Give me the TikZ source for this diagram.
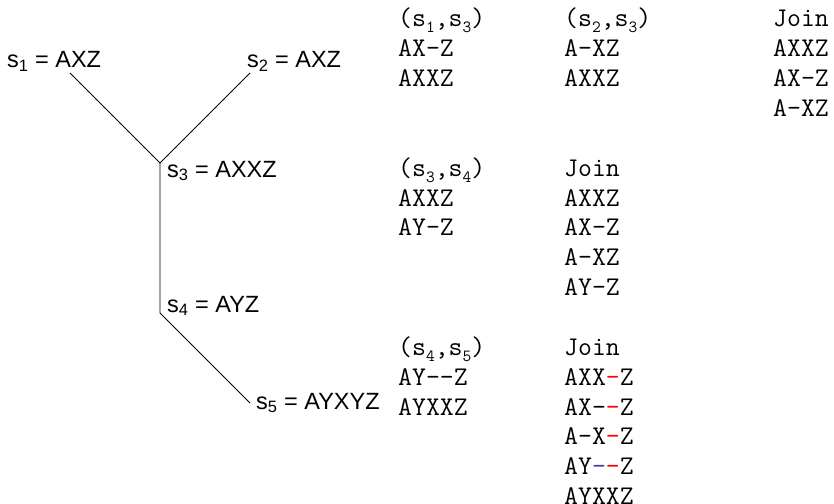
\documentclass[tikz,border=0pt]{standalone}
\usepackage{fontspec}
\setmainfont{Liberation Sans}
\definecolor{dashblue}{rgb}{0.25,0.25,0.6}
\newcommand\msub[1]{\raisebox{-0.22em}{\fontsize{17}{17}\selectfont #1}}
\newcommand\rd{\textcolor{red}{-}}
\newcommand\bd{\textcolor{dashblue}{-}}
\tikzset{
  lab/.style={anchor=base west, inner sep=0pt, font=\fontsize{23.5}{23.5}\selectfont},
  mono/.style={anchor=base west, inner sep=0pt, font=\fontsize{27}{27}\ttfamily},
  branch/.style={line width=0.9pt, black}
}
\begin{document}
\begin{tikzpicture}[x=1pt,y=-1pt]
\useasboundingbox (0,0) rectangle (834,503);
% tree labels
\node[lab] (s1) at (7,67.5) {s\textsubscript{1} = AXZ};
\node[lab] (s2) at (247,67.5) {s\textsubscript{2} = AXZ};
\node[lab] (s3) at (167,177) {s\textsubscript{3} = AXXZ};
\node[lab] (s4) at (167,312) {s\textsubscript{4} = AYZ};
\node[lab] (s5) at (256,409) {s\textsubscript{5} = AYXYZ};
% tree geometry
\coordinate (c1) at (70,73);
\coordinate (c2) at (250,73);
\coordinate (c3) at (160,163);
\coordinate (c4) at (160,313);
\coordinate (c5) at (250,403);
\draw[branch] (c1) -- (c3);
\draw[branch] (c2) -- (c3);
\draw[branch] (c3) -- (c4) -- (c5);
% columns
\def\ca{398}\def\cb{564}\def\cc{773}
% group 1
\node[mono] (g1a) at (\ca,27) {(s\msub{1},s\msub{3})};
\node[mono] (g1b) at (\ca,56.85) {AX-Z};
\node[mono] (g1c) at (\ca,86.7) {AXXZ};
\node[mono] (g2a) at (\cb,27) {(s\msub{2},s\msub{3})};
\node[mono] (g2b) at (\cb,56.85) {A-XZ};
\node[mono] (g2c) at (\cb,86.7) {AXXZ};
\node[mono] (g3a) at (\cc,27) {Join};
\node[mono] (g3b) at (\cc,56.85) {AXXZ};
\node[mono] (g3c) at (\cc,86.7) {AX-Z};
\node[mono] (g3d) at (\cc,116.55) {A-XZ};
% group 2
\node[mono] (h1a) at (\ca,176.25) {(s\msub{3},s\msub{4})};
\node[mono] (h1b) at (\ca,206.1) {AXXZ};
\node[mono] (h1c) at (\ca,235.95) {AY-Z};
\node[mono] (h2a) at (\cb,176.25) {Join};
\node[mono] (h2b) at (\cb,206.1) {AXXZ};
\node[mono] (h2c) at (\cb,235.95) {AX-Z};
\node[mono] (h2d) at (\cb,265.8) {A-XZ};
\node[mono] (h2e) at (\cb,295.65) {AY-Z};
% group 3
\node[mono] (k1a) at (\ca,355.35) {(s\msub{4},s\msub{5})};
\node[mono] (k1b) at (\ca,385.2) {AY-{}-Z};
\node[mono] (k1c) at (\ca,415.05) {AYXXZ};
\node[mono] (k2a) at (\cb,355.35) {Join};
\node[mono] (k2b) at (\cb,385.2) {AXX\rd Z};
\node[mono] (k2c) at (\cb,415.05) {AX-\rd Z};
\node[mono] (k2d) at (\cb,444.9) {A-X\rd Z};
\node[mono] (k2e) at (\cb,474.75) {AY\bd\rd Z};
\node[mono] (k2f) at (\cb,504.6) {AYXXZ};
\end{tikzpicture}
\end{document}
